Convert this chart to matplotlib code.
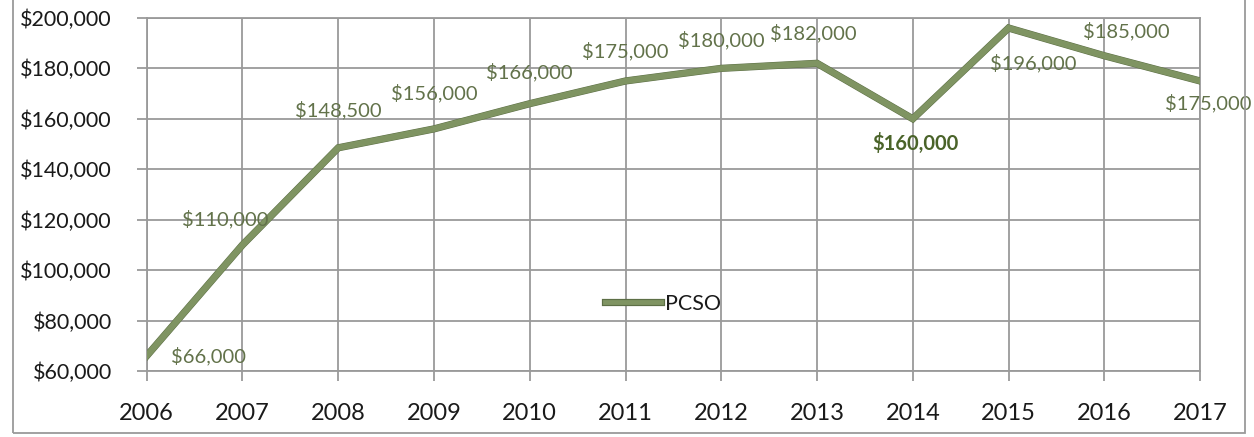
import matplotlib
matplotlib.use("Agg")
import matplotlib.pyplot as plt
import matplotlib.patheffects as pe
from matplotlib.patches import Rectangle
from matplotlib.ticker import FuncFormatter

years = [2006, 2007, 2008, 2009, 2010, 2011, 2012, 2013, 2014, 2015, 2016, 2017]
values = [66000, 110000, 148500, 156000, 166000, 175000, 180000, 182000, 160000, 196000, 185000, 175000]
series_name = "PCSO"

# label offsets (pixels) relative to each point: style only
label_offsets = [(62, 0), (-17, 26), (0, 38), (0, 36), (0, 32), (0, 30), (0, 28), (-4, 30),
                 (3, -25), (25, -35), (22, 25), (8, -22)]
bold_idx = 8

plt.rcParams['font.family'] = ['Lato', 'DejaVu Sans']

fig = plt.figure(figsize=(12.54, 4.37), dpi=100)
ax = fig.add_axes([0.117, 0.151, 0.957 - 0.117, 0.959 - 0.151])

line_col = '#7f9462'
ax.plot(years, values, color=line_col, lw=4.5, solid_joinstyle='miter', zorder=3,
        label=series_name,
        path_effects=[pe.Stroke(linewidth=5.2, foreground='#5d6f46'), pe.Normal()])

ax.set_xlim(2006, 2017)
ax.set_ylim(60000, 200000)
ax.set_xticks(years)
ax.set_yticks(range(60000, 200001, 20000))
ax.yaxis.set_major_formatter(FuncFormatter(lambda v, p: f"${int(v):,}"))
ax.grid(True, color='#9a9a9a', lw=1.3)
ax.set_axisbelow(True)
for s in ax.spines.values():
    s.set_color('#9a9a9a')
    s.set_linewidth(1.3)
ax.tick_params(axis='both', colors='#9a9a9a', length=7, width=1.3, labelcolor='#1a1a1a')
ax.tick_params(axis='y', labelsize=15.5, pad=18)
ax.tick_params(axis='x', labelsize=17, pad=16)

lab_col = '#62724a'
for i, (x, v) in enumerate(zip(years, values)):
    dx, dy = label_offsets[i]
    bold = (i == bold_idx)
    ax.annotate(f"${v:,}", (x, v), xytext=(dx, dy), textcoords='offset pixels',
                ha='center', va='center', fontsize=14.5,
                color='#4a6329' if bold else lab_col,
                fontweight='bold' if bold else 'normal', zorder=4)

leg = ax.legend(loc='center', bbox_to_anchor=(0.49, 0.19), frameon=False,
                fontsize=15.5, handlelength=2.6, handletextpad=0.2)
for t in leg.get_texts():
    t.set_color('#1a1a1a')
for h in leg.get_lines():
    h.set_linewidth(3.5)

fig.patches.append(Rectangle((13 / 1254, 4 / 437), (1245 - 13) / 1254, 1.2,
                             transform=fig.transFigure, fill=False,
                             edgecolor='#9a9a9a', lw=1.3))

fig.savefig("out.png", dpi=100)
